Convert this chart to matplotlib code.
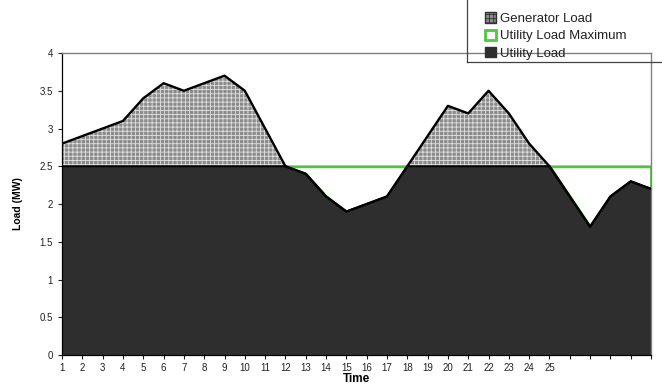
import matplotlib
matplotlib.use("Agg")
import matplotlib.pyplot as plt
from matplotlib.patches import Patch
from matplotlib.lines import Line2D
import numpy as np

plt.rcParams['font.family'] = ['Liberation Sans', 'DejaVu Sans']
plt.rcParams['hatch.linewidth'] = 0.6

# hourly total load (MW), time steps 1..30
time = np.arange(1, 31)
total_load = [2.8, 2.9, 3.0, 3.1, 3.4, 3.6, 3.5, 3.6, 3.7, 3.5,
              3.0, 2.5, 2.4, 2.1, 1.9, 2.0, 2.1, 2.5, 2.9, 3.3,
              3.2, 3.5, 3.2, 2.8, 2.5, 2.1, 1.7, 2.1, 2.3, 2.2]
utility_max = 2.5
tick_labels = [str(t) if t <= 25 else "" for t in time]

load = np.array(total_load)
utility = np.minimum(load, utility_max)
generator_top = np.maximum(load, utility_max)

fig = plt.figure(figsize=(6.62, 3.85), dpi=100)
ax = fig.add_axes([0.0937, 0.0779, 0.8897, 0.7844])

green = '#4cc83a'
dark = '#2e2e2e'
hatch_face = '#8c8c8c'

# headroom under the utility limit, outlined in green
ax.fill_between(time, utility, utility_max, facecolor='white',
                edgecolor=green, linewidth=2.0, zorder=1)
# utility supplied load
ax.fill_between(time, 0, utility, facecolor=dark, edgecolor='none', zorder=2)
# generator share above the limit
ax.fill_between(time, utility_max, generator_top, facecolor=hatch_face,
                hatch='++++', edgecolor='#e0e0e0', linewidth=0, zorder=2)
ax.plot(time, load, color='black', lw=1.7, zorder=3)
ax.plot(time, utility, color='black', lw=1.4, zorder=3)

ax.set_xlim(1, 30)
ax.set_ylim(0, 4)
ax.set_xticks(time)
ax.set_xticklabels(tick_labels)
ax.set_yticks(np.arange(0, 4.01, 0.5))
ax.set_yticklabels(['0', '0.5', '1', '1.5', '2', '2.5', '3', '3.5', '4'])
ax.tick_params(axis='both', labelsize=7, length=3, width=0.8,
               direction='out', colors='#222222')
ax.tick_params(axis='x', pad=3)

for side in ['top', 'right']:
    ax.spines[side].set_color('#808080')
    ax.spines[side].set_linewidth(1.0)
for side in ['left', 'bottom']:
    ax.spines[side].set_color('black')
    ax.spines[side].set_linewidth(0.9)

ax.set_ylabel('Load (MW)', fontsize=7.5, fontweight='bold', labelpad=12)
ax.set_xlabel('Time', fontsize=8.5, fontweight='bold', labelpad=0)

handles = [
    Patch(facecolor=hatch_face, hatch='++++', edgecolor='#303030', label='Generator Load'),
    Patch(facecolor='white', edgecolor=green, linewidth=2, label='Utility Load Maximum'),
    Patch(facecolor=dark, edgecolor='#303030', label='Utility Load'),
]
leg = fig.legend(handles=handles, loc='upper left', bbox_to_anchor=(0.733, 0.968),
                 frameon=False, fontsize=9.5, handlelength=0.85,
                 handleheight=0.85, handletextpad=0.3, labelspacing=0.33,
                 borderpad=0, borderaxespad=0)
for txt in leg.get_texts():
    txt.set_color('#222222')

# legend box runs off the top right corner, only its left and bottom edges show
legend_x, legend_y = 467 / 662, 1 - 62 / 385
fig.add_artist(Line2D([legend_x, legend_x], [legend_y, 1.0], color='#404040', lw=0.9))
fig.add_artist(Line2D([legend_x, 1.0], [legend_y, legend_y], color='#404040', lw=0.9))

fig.savefig('out.png', dpi=100)
